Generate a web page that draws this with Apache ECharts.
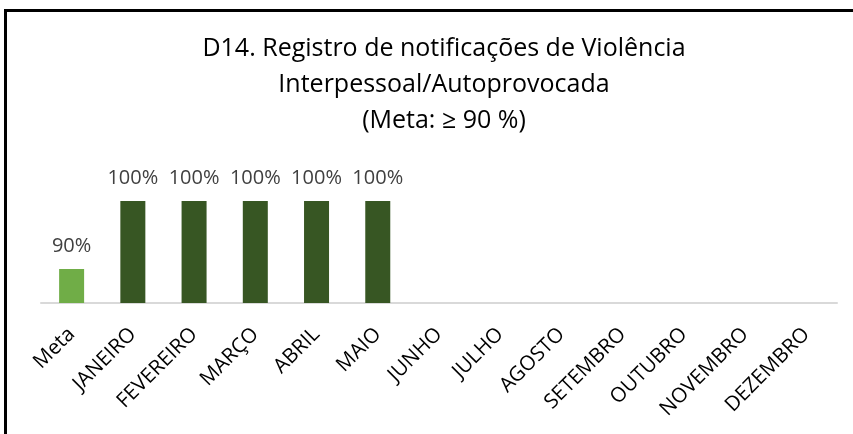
<!DOCTYPE html>
<html lang="pt-BR">
<head>
    <meta charset="UTF-8">
    <title>D14 - Violência Interpessoal/Autoprovocada</title>
    <script src="https://cdn.jsdelivr.net/npm/echarts@6.0.0/dist/echarts.min.js"></script>
    <style>
        * {
            margin: 0;
            padding: 0;
            box-sizing: border-box;
        }

        body {
            background: #ffffff;
            width: 853px;
            height: 434px;
            overflow: hidden;
            position: relative;
        }

        .frame {
            position: absolute;
            left: 4px;
            top: 9px;
            width: 900px;
            height: 500px;
            border: 3px solid #000;
        }

        #chart {
            position: absolute;
            left: 0;
            top: 0;
            width: 853px;
            height: 434px;
        }
    </style>
</head>
<body>
    <div class="frame"></div>
    <div id="chart"></div>

    <script>
        // categorias e valores
        const categorias = ['Meta', 'JANEIRO', 'FEVEREIRO', 'MARÇO', 'ABRIL', 'MAIO', 'JUNHO',
            'JULHO', 'AGOSTO', 'SETEMBRO', 'OUTUBRO', 'NOVEMBRO', 'DEZEMBRO'];
        const valores = [0.90, 1.00, 1.00, 1.00, 1.00, 1.00, null, null, null, null, null, null, null];
        const corMeta = '#70ad47';
        const corMes = '#375623';

        const chart = echarts.init(document.getElementById('chart'));
        chart.setOption({
            animation: false,
            title: {
                text: 'D14. Registro de notificações de Violência\nInterpessoal/Autoprovocada\n(Meta: ≥ 90 %)',
                left: 439,
                top: 26,
                textAlign: 'center',
                textStyle: {
                    fontFamily: 'Open Sans',
                    fontSize: 25,
                    fontWeight: 'normal',
                    color: '#000',
                    lineHeight: 36
                }
            },
            grid: {
                left: 41,
                right: 16,
                top: 167,
                bottom: 131
            },
            xAxis: {
                type: 'category',
                data: categorias,
                axisLine: { lineStyle: { color: '#d9d9d9', width: 2 } },
                axisTick: { show: false },
                axisLabel: {
                    rotate: 45,
                    interval: 0,
                    margin: 28,
                    color: '#000',
                    fontFamily: 'Open Sans',
                    fontSize: 20.5
                }
            },
            yAxis: {
                type: 'value',
                min: 0.85,
                max: 1.05,
                show: false
            },
            series: [{
                type: 'bar',
                data: valores.map((v, i) => ({
                    value: v,
                    itemStyle: { color: i === 0 ? corMeta : corMes }
                })),
                barWidth: 25,
                label: {
                    show: true,
                    position: 'top',
                    distance: 13,
                    color: '#404040',
                    fontFamily: 'Open Sans',
                    fontSize: 20,
                    formatter: p => p.value == null ? '' : Math.round(p.value * 100) + '%'
                }
            }]
        });
    </script>
</body>
</html>
